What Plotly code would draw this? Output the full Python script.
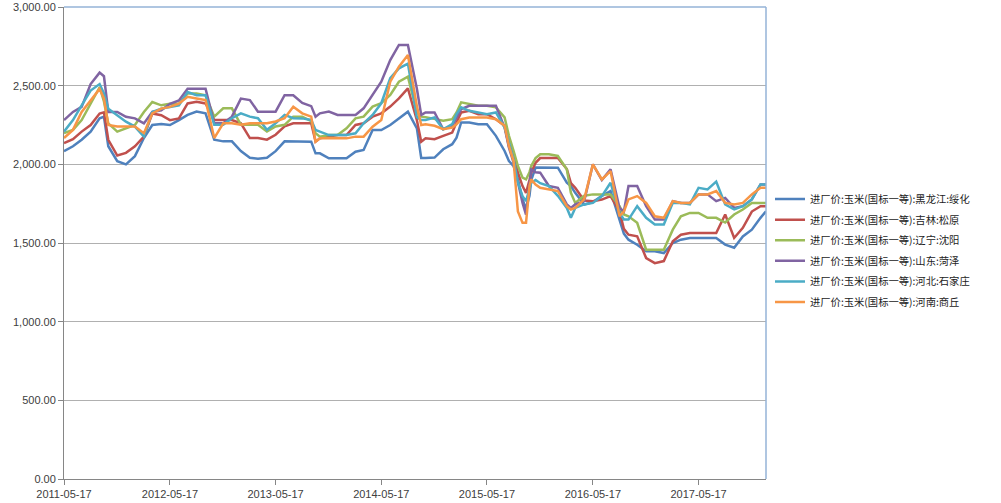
import plotly.graph_objects as go

dates = [
    "2011-05-17", "2011-06-17", "2011-07-17", "2011-08-17", "2011-09-17", "2011-10-02", "2011-10-17", "2011-11-17", "2011-12-17",
    "2012-01-17", "2012-02-17", "2012-03-17", "2012-04-17", "2012-05-17", "2012-06-17", "2012-07-17", "2012-08-17", "2012-09-17", "2012-10-17", "2012-11-17", "2012-12-17",
    "2013-01-17", "2013-02-17", "2013-03-17", "2013-04-17", "2013-05-17", "2013-06-17", "2013-07-17", "2013-08-17", "2013-09-17", "2013-10-02", "2013-10-17", "2013-11-17", "2013-12-17",
    "2014-01-17", "2014-02-17", "2014-03-17", "2014-04-17", "2014-05-17", "2014-06-17", "2014-07-17", "2014-08-17", "2014-09-17", "2014-10-02", "2014-10-17", "2014-11-17", "2014-12-17",
    "2015-01-17", "2015-02-01", "2015-02-17", "2015-03-17", "2015-04-17", "2015-05-17", "2015-06-17", "2015-07-17", "2015-08-01", "2015-08-17", "2015-09-01", "2015-09-17", "2015-09-29", "2015-10-11", "2015-10-17", "2015-11-01", "2015-11-17", "2015-12-17",
    "2016-01-17", "2016-02-17", "2016-03-02", "2016-03-17", "2016-04-17", "2016-05-17", "2016-06-17", "2016-07-17", "2016-08-17", "2016-09-01", "2016-09-17", "2016-10-17", "2016-11-17", "2016-12-17",
    "2017-01-17", "2017-02-17", "2017-03-17", "2017-04-17", "2017-05-17", "2017-06-17", "2017-07-17", "2017-08-17", "2017-09-17", "2017-10-17", "2017-11-17", "2017-12-17", "2018-01-05",
]

heilongjiang_suihua = [
    2083, 2115, 2156, 2208, 2292, 2302, 2115, 2020, 2000,
    2052, 2167, 2250, 2256, 2250, 2281, 2314, 2335, 2324, 2157, 2146, 2146,
    2084, 2042, 2035, 2042, 2084, 2146, 2146, 2146, 2144, 2070, 2070, 2038, 2038,
    2038, 2080, 2091, 2218, 2218, 2250, 2292, 2335, 2229, 2040, 2040, 2043, 2096,
    2128, 2170, 2266, 2266, 2255, 2255, 2181, 2085, 2021, 1989, 1904, 1777, 1720, 1800, 1900, 1980, 1979, 1979,
    1979, 1883, 1862, 1819, 1745, 1760, 1800, 1830, 1650, 1560, 1521, 1489, 1447, 1447,
    1436, 1500, 1521, 1532, 1532, 1532, 1532, 1490, 1470, 1542, 1585, 1660, 1702,
]
jilin_songyuan = [
    2135, 2160, 2208, 2250, 2323, 2330, 2156, 2056, 2073,
    2115, 2177, 2323, 2312, 2281, 2292, 2387, 2397, 2387, 2282, 2282, 2282,
    2261, 2167, 2167, 2157, 2188, 2241, 2261, 2261, 2261, 2144, 2165, 2176, 2186,
    2186, 2250, 2261, 2303, 2324, 2367, 2419, 2483, 2280, 2144, 2165, 2160, 2181,
    2202, 2266, 2330, 2340, 2319, 2319, 2287, 2245, 2117, 2074, 1947, 1862, 1819, 1900, 1947, 2010, 2040, 2040,
    2040, 1970, 1880, 1851, 1770, 1766, 1776, 1798, 1702, 1590, 1553, 1542, 1404, 1372,
    1385, 1511, 1553, 1564, 1564, 1564, 1564, 1681, 1532, 1596, 1700, 1734, 1734,
]
liaoning_shenyang = [
    2198, 2219, 2281, 2385, 2490, 2400, 2260, 2208, 2230,
    2250, 2333, 2396, 2375, 2385, 2385, 2450, 2450, 2439, 2303, 2356, 2356,
    2251, 2251, 2251, 2209, 2241, 2251, 2303, 2303, 2275, 2197, 2176, 2186, 2186,
    2229, 2292, 2303, 2367, 2388, 2441, 2525, 2557, 2330, 2303, 2300, 2287, 2277,
    2287, 2330, 2394, 2383, 2372, 2372, 2362, 2298, 2181, 2085, 1989, 1915, 1904, 1950, 1989, 2040, 2064, 2064,
    2053, 1968, 1819, 1755, 1800, 1809, 1809, 1809, 1734, 1681, 1670, 1628, 1457, 1457,
    1457, 1585, 1670, 1691, 1691, 1660, 1660, 1630, 1681, 1713, 1755, 1755, 1755,
]
shandong_heze = [
    2281, 2333, 2365, 2510, 2583, 2560, 2333, 2333, 2302,
    2292, 2260, 2333, 2344, 2385, 2406, 2481, 2481, 2481, 2261, 2261, 2303,
    2418, 2408, 2335, 2335, 2335, 2439, 2439, 2390, 2370, 2303, 2324, 2335, 2314,
    2314, 2314, 2356, 2441, 2525, 2663, 2759, 2759, 2480, 2314, 2330, 2330, 2223,
    2245, 2300, 2351, 2372, 2372, 2372, 2372, 2234, 2106, 2011, 1883, 1755, 1681, 1900, 1968, 1950, 1947, 1862,
    1851, 1745, 1723, 1745, 1766, 2000, 1900, 1968, 1723, 1700, 1862, 1862, 1734, 1649,
    1649, 1766, 1755, 1755, 1809, 1809, 1766, 1787, 1723, 1734, 1777, 1872, 1872,
]
hebei_shijiazhuang = [
    2208, 2281, 2375, 2469, 2510, 2450, 2354, 2312, 2271,
    2240, 2177, 2333, 2354, 2365, 2375, 2460, 2439, 2439, 2251, 2251, 2293,
    2324, 2303, 2293, 2220, 2261, 2314, 2293, 2292, 2282, 2218, 2208, 2186, 2186,
    2186, 2197, 2261, 2314, 2388, 2547, 2610, 2640, 2300, 2282, 2282, 2298, 2223,
    2255, 2319, 2362, 2340, 2330, 2319, 2330, 2234, 2138, 2032, 1883, 1798, 1766, 1850, 1883, 1900, 1880, 1862,
    1800, 1723, 1660, 1723, 1745, 1755, 1798, 1883, 1691, 1649, 1649, 1734, 1660, 1617,
    1617, 1755, 1755, 1745, 1851, 1840, 1890, 1745, 1713, 1734, 1777, 1872, 1872,
]
henan_shangqiu = [
    2167, 2219, 2333, 2406, 2479, 2420, 2250, 2240, 2240,
    2240, 2198, 2323, 2354, 2365, 2385, 2429, 2418, 2408, 2167, 2261, 2261,
    2251, 2261, 2261, 2261, 2272, 2293, 2366, 2324, 2303, 2144, 2165, 2165, 2165,
    2165, 2176, 2176, 2239, 2282, 2525, 2621, 2695, 2370, 2250, 2255, 2245, 2223,
    2234, 2255, 2287, 2298, 2298, 2298, 2287, 2245, 2117, 2021, 1700, 1628, 1628, 1862, 1904, 1872, 1851, 1840,
    1830, 1734, 1713, 1723, 1777, 2000, 1904, 1957, 1670, 1700, 1777, 1798, 1755, 1670,
    1660, 1766, 1755, 1755, 1809, 1809, 1830, 1755, 1745, 1755, 1809, 1851, 1851,
]

series_names = [
    "进厂价:玉米(国标一等):黑龙江:绥化",
    "进厂价:玉米(国标一等):吉林:松原",
    "进厂价:玉米(国标一等):辽宁:沈阳",
    "进厂价:玉米(国标一等):山东:菏泽",
    "进厂价:玉米(国标一等):河北:石家庄",
    "进厂价:玉米(国标一等):河南:商丘",
]
series_values = [heilongjiang_suihua, jilin_songyuan, liaoning_shenyang,
                 shandong_heze, hebei_shijiazhuang, henan_shangqiu]
colors = ["#4F81BD", "#C0504D", "#9BBB59", "#8064A2", "#4BACC6", "#F79646"]

tick_dates = ["2011-05-17", "2012-05-17", "2013-05-17", "2014-05-17",
              "2015-05-17", "2016-05-17", "2017-05-17"]

for v in series_values:
    assert len(v) == len(dates), (len(v), len(dates))

fig = go.Figure()
for i, (name, vals, col) in enumerate(zip(series_names, series_values, colors)):
    fig.add_trace(go.Scatter(x=dates, y=vals, name=name, mode="lines",
                             legendgroup=f"g{i}",
                             line=dict(color=col, width=2.5)))

tick_font = dict(family="Liberation Sans, Arial, sans-serif", size=11, color="#404040")

fig.update_layout(
    width=1001, height=503,
    margin=dict(l=64, r=235, t=7, b=24),
    paper_bgcolor="white", plot_bgcolor="white",
    showlegend=True,
    legend=dict(x=1.0057, xanchor="left", y=0.484, yanchor="middle",
                font=dict(family="Noto Sans CJK SC, sans-serif", size=10.3, color="#222222"),
                bgcolor="rgba(0,0,0,0)", itemwidth=30, tracegroupgap=1.6),
    xaxis=dict(type="date", range=["2011-05-17", "2018-01-05"],
               tickvals=tick_dates, ticktext=tick_dates, automargin=False,
               showgrid=False, showline=True, linecolor="#868686", linewidth=1,
               ticks="outside", ticklen=5, tickcolor="#868686",
               tickfont=tick_font, zeroline=False),
    yaxis=dict(range=[0, 3000], dtick=500, tick0=0, tickformat=",.2f",
               automargin=False,
               showgrid=True, gridcolor="#b0b0b0", gridwidth=1,
               showline=True, linecolor="#868686", linewidth=1,
               ticks="outside", ticklen=5, tickcolor="#868686",
               tickfont=tick_font, zeroline=False),
    shapes=[
        dict(type="line", xref="paper", yref="paper", x0=0, x1=1, y0=1, y1=1,
             line=dict(color="#95B3D7", width=1.5)),
        dict(type="line", xref="paper", yref="paper", x0=1, x1=1, y0=0, y1=1,
             line=dict(color="#95B3D7", width=1.5)),
    ],
)

fig.write_html(
    "out.html",
    config={"displayModeBar": False},
    post_script="document.body.style.margin='0';document.body.style.padding='0';",
)
